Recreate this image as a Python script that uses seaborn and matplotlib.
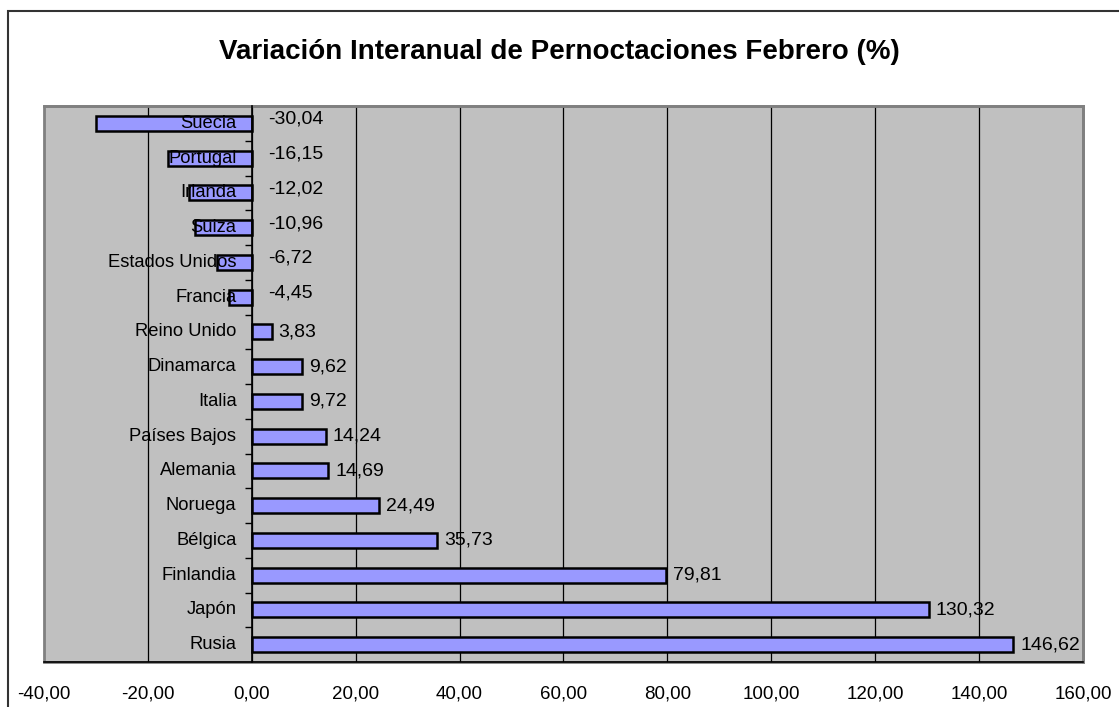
"""
Variación interanual de pernoctaciones (febrero) por país.
"""

import matplotlib
matplotlib.use("Agg")

import matplotlib.pyplot as plt
import matplotlib.ticker as mticker
from matplotlib.patches import Rectangle
import pandas as pd
import seaborn as sns


COUNTRIES: list[str] = [
    "Suecia", "Portugal", "Irlanda", "Suiza", "Estados Unidos",
    "Francia", "Reino Unido", "Dinamarca", "Italia", "Países Bajos",
    "Alemania", "Noruega", "Bélgica", "Finlandia", "Japón", "Rusia",
]

VARIATION: list[float] = [
    -30.04, -16.15, -12.02, -10.96, -6.72,
    -4.45, 3.83, 9.62, 9.72, 14.24,
    14.69, 24.49, 35.73, 79.81, 130.32, 146.62,
]

TITLE: str = "Variación Interanual de Pernoctaciones Febrero (%)"
X_TICKS: list[int] = [-40, -20, 0, 20, 40, 60, 80, 100, 120, 140, 160]

BAR_COLOR = "#9999FF"
PLOT_BG = "#C0C0C0"
FONT = ["Liberation Sans", "DejaVu Sans"]


def comma(value: float) -> str:
    """Format a number with two decimals and a decimal comma."""
    return f"{value:.2f}".replace(".", ",")


def main() -> None:
    data = pd.DataFrame({"Pais": COUNTRIES, "Variacion": VARIATION})

    sns.set_style("white")
    plt.rcParams["font.family"] = FONT
    plt.rcParams["text.color"] = "black"
    plt.rcParams["xtick.labelcolor"] = "black"

    fig = plt.figure(figsize=(11.19, 7.07), dpi=100)
    ax = fig.add_axes([0.0393, 0.0636, 0.9285, 0.7864])
    ax.set_facecolor(PLOT_BG)

    sns.barplot(
        data=data, x="Variacion", y="Pais", orient="h",
        color=BAR_COLOR, saturation=1, width=0.43,
        edgecolor="black", linewidth=1.8, ax=ax, zorder=3,
    )

    ax.set_xlim(-40, 160)
    ax.set_xticks(X_TICKS)
    ax.xaxis.set_major_formatter(
        mticker.FuncFormatter(lambda v, _: comma(v))
    )
    ax.tick_params(axis="x", direction="out", length=6, width=1,
                   color="black", labelcolor="black", labelsize=13.5,
                   pad=11)
    for x in X_TICKS[1:-1]:
        ax.axvline(x, color="black", lw=0.9, zorder=1)

    # category axis sits at zero, ticks between categories
    ax.spines["left"].set_position(("data", 0))
    ax.spines["left"].set_color("black")
    ax.spines["left"].set_linewidth(1.2)
    ax.spines["left"].set_zorder(4)
    ax.set_yticks(range(len(COUNTRIES)))
    ax.set_yticklabels([])
    ax.tick_params(axis="y", which="major", length=0)
    ax.yaxis.set_minor_locator(
        mticker.FixedLocator([i + 0.5 for i in range(len(COUNTRIES) - 1)])
    )
    ax.tick_params(axis="y", which="minor", direction="out", length=5,
                   width=1, color="black", left=True)

    ax.spines["bottom"].set_color("black")
    ax.spines["bottom"].set_linewidth(1.2)
    for side in ["top", "right"]:
        ax.spines[side].set_color("#808080")
        ax.spines[side].set_linewidth(2)
    ax.add_patch(Rectangle((0, 0), 1, 1, transform=ax.transAxes,
                           fill=False, edgecolor="#808080", lw=2,
                           zorder=0.5, clip_on=False))

    ax.set_xlabel("")
    ax.set_ylabel("")

    for i, (name, value) in enumerate(zip(COUNTRIES, VARIATION)):
        ax.annotate(name, xy=(0, i), xytext=(-11, 0),
                    textcoords="offset points", ha="right", va="center",
                    fontsize=13.2, color="black", zorder=6)
        if value < 0:
            ax.annotate(comma(value), xy=(0, i), xytext=(12, 3),
                        textcoords="offset points", ha="left",
                        va="center", fontsize=14, color="black", zorder=6)
        else:
            ax.annotate(comma(value), xy=(value, i), xytext=(5, 0),
                        textcoords="offset points", ha="left",
                        va="center", fontsize=14, color="black", zorder=6)

    fig.text(0.5, 0.926, TITLE, ha="center", va="center",
             fontsize=20, fontweight="bold", color="black")

    fig.patches.append(Rectangle(
        (8 / 1119, -0.1), 1.2, 1.1 - 11 / 707,
        transform=fig.transFigure, fill=False,
        edgecolor="#333333", lw=1.5,
    ))

    fig.savefig("out.png", dpi=100)


if __name__ == "__main__":
    main()
